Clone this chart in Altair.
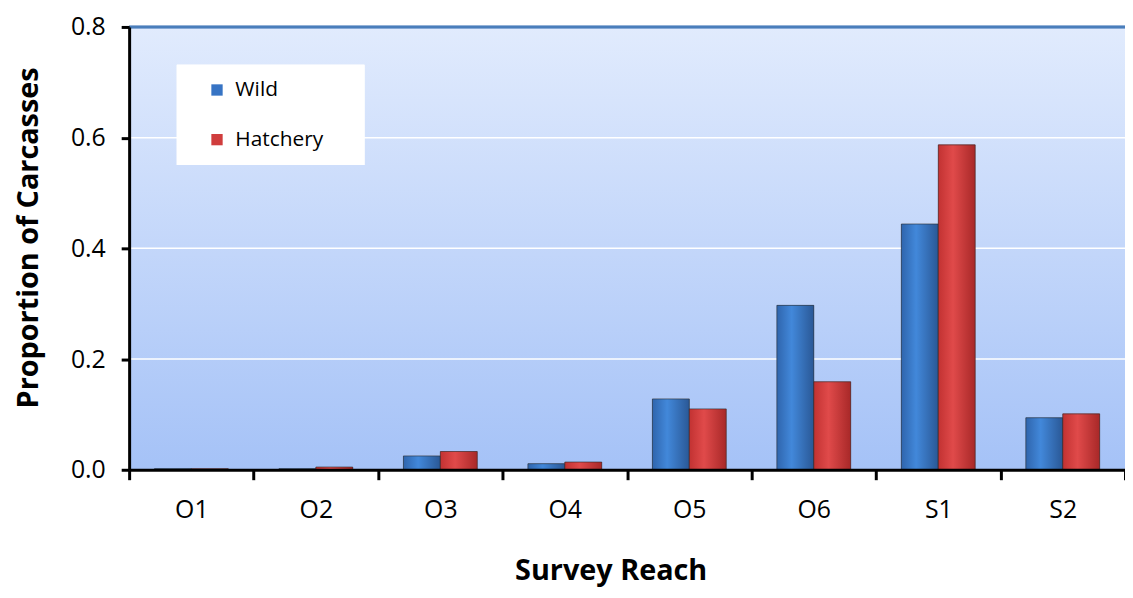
import altair as alt
import pandas as pd

reaches = ["O1", "O2", "O3", "O4", "O5", "O6", "S1", "S2"]
series = ["Wild", "Hatchery"]
wild = [0.002, 0.002, 0.025, 0.011, 0.128, 0.297, 0.444, 0.094]
hatchery = [0.002, 0.005, 0.033, 0.014, 0.110, 0.159, 0.587, 0.101]
y_ticks = [0.0, 0.2, 0.4, 0.6, 0.8]
grid_vals = [0.2, 0.4, 0.6]

rows = []
for r, w, h in zip(reaches, wild, hatchery):
    rows.append({"reach": r, "series": "Wild", "value": w})
    rows.append({"reach": r, "series": "Hatchery", "value": h})
df = pd.DataFrame(rows)
grid_df = pd.DataFrame({"g": grid_vals})

W, H = 1003, 446
FONT = "Open Sans"

x_enc = alt.X("reach:N", sort=reaches,
              scale=alt.Scale(paddingInner=0, paddingOuter=0),
              axis=alt.Axis(title="Survey Reach", labelAngle=0, tickBand="extent",
                            labelFontSize=25, labelPadding=18, titleFontSize=29,
                            titleX=485, titleY=111, titleBaseline="alphabetic",
                            titleAnchor="middle", titleAlign="center",
                            tickSize=10, tickWidth=3, domainWidth=3,
                            domainColor="black", tickColor="black", zindex=1,
                            labelColor="black", titleColor="black"))
y_enc = alt.Y("value:Q", scale=alt.Scale(domain=[0, 0.8], nice=False),
              axis=alt.Axis(title="Proportion of Carcasses", values=y_ticks, format=".1f",
                            labelFontSize=25, labelPadding=16, titleFontSize=29,
                            titleX=-101, titleY=212, titleAngle=-90,
                            titleBaseline="middle", titleAlign="center",
                            tickSize=8, tickWidth=3, domainWidth=3,
                            domainColor="black", tickColor="black", grid=False, zindex=1,
                            labelColor="black", titleColor="black"))
xo_enc = alt.XOffset("series:N", sort=series,
                     scale=alt.Scale(domain=series, paddingInner=0, paddingOuter=0.686))

bg = alt.Chart(df).mark_rect(
    color=alt.Gradient(gradient="linear", x1=0, x2=0, y1=0, y2=1,
                       stops=[alt.GradientStop(offset=0, color="#e1ebfd"),
                              alt.GradientStop(offset=1, color="#a5c2f7")])
).encode(x=alt.value(0), x2=alt.value(W), y=alt.value(0), y2=alt.value(H))

grid = alt.Chart(grid_df).mark_rule(color="white", strokeWidth=1.5).encode(
    y=alt.Y("g:Q"), x=alt.value(0), x2=alt.value(W))

top_line = alt.Chart(grid_df).mark_rule(color="#4a7ebb", strokeWidth=2.5).encode(
    y=alt.value(0), x=alt.value(0), x2=alt.value(W))

base_bars = alt.Chart(df).mark_bar(strokeWidth=0).encode(
    x=x_enc, y=y_enc, xOffset=xo_enc,
    color=alt.Color("series:N", sort=series,
                    scale=alt.Scale(domain=series, range=["#3774c4", "#d03d3d"]),
                    legend=alt.Legend(title=None, orient="none", legendX=78, legendY=53,
                                      labelFontSize=21, labelFont=FONT, symbolType="square",
                                      symbolSize=130, symbolStrokeWidth=0, rowPadding=28,
                                      labelOffset=8, padding=0, labelColor="black")))


def grad_layer(name, c_edge, c_mid, c_edge2):
    return alt.Chart(df).transform_filter(alt.datum.series == name).mark_bar(
        color=alt.Gradient(gradient="linear", x1=0, x2=1, y1=0, y2=0,
                           stops=[alt.GradientStop(offset=0, color=c_edge),
                                  alt.GradientStop(offset=0.4, color=c_mid),
                                  alt.GradientStop(offset=1, color=c_edge2)]),
        stroke="#2a2a2a", strokeWidth=1, strokeOpacity=0.6
    ).encode(x=x_enc, y=y_enc, xOffset=xo_enc)


wild_bars = grad_layer("Wild", "#2f65ad", "#4288da", "#2a5896")
hatch_bars = grad_layer("Hatchery", "#c23232", "#e04a4a", "#a82828")

legend_box = alt.Chart(grid_df).mark_rect(color="white").encode(
    x=alt.value(48), x2=alt.value(237), y=alt.value(38), y2=alt.value(139))

chart = alt.layer(bg, grid, top_line, base_bars, wild_bars, hatch_bars, legend_box).properties(
    width=W, height=H,
    autosize=alt.AutoSizeParams(type="none"),
    padding={"left": 122, "top": 17, "right": 0, "bottom": 117},
).configure(font=FONT).configure_view(stroke=None).configure_axis(
    labelFont=FONT, titleFont=FONT, titleFontWeight="bold")

chart.save("out.html", embed_options={"renderer": "svg", "actions": False})
